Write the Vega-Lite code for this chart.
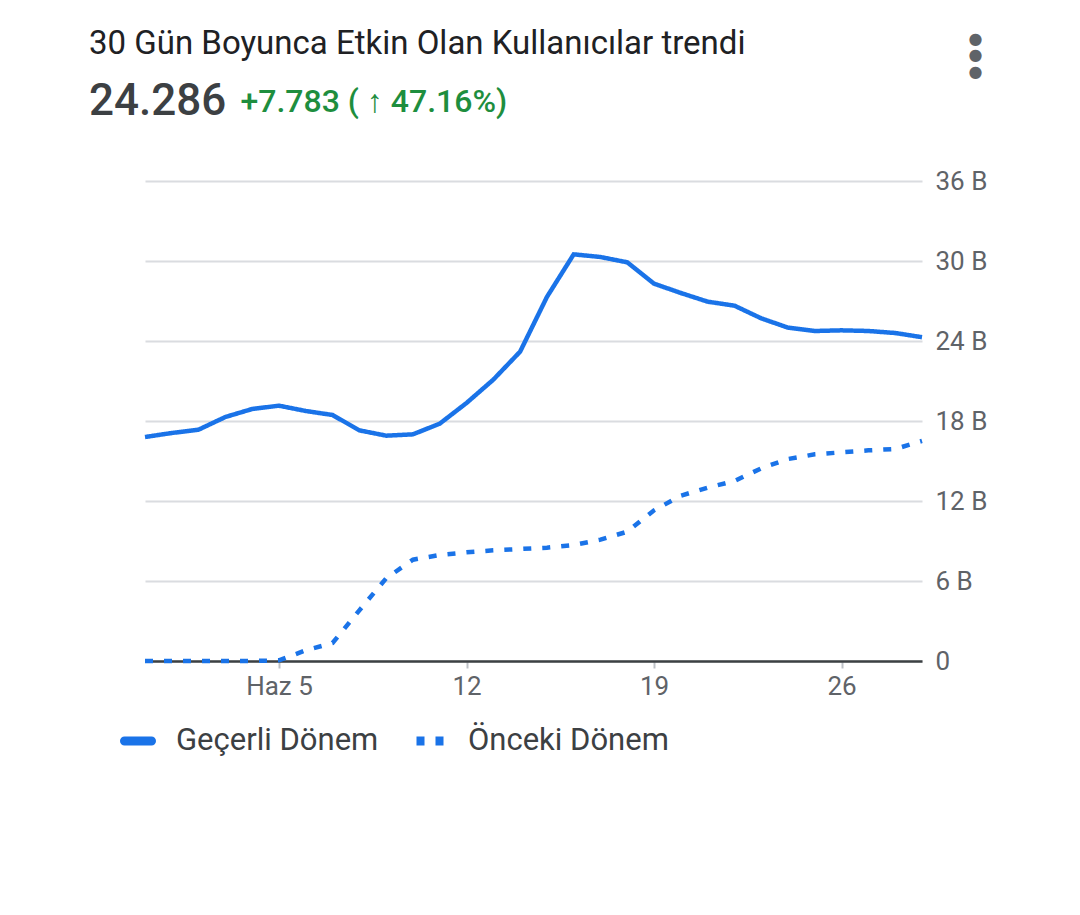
{
  "$schema": "https://vega.github.io/schema/vega-lite/v6.json",
  "autosize": {"type": "none"},
  "width": 777,
  "height": 480,
  "padding": {"left": 145, "top": 181, "right": 158, "bottom": 254},
  "background": "white",
  "config": {
    "font": "Roboto",
    "view": {"stroke": null},
    "legend": {
      "orient": "none",
      "legendX": -25,
      "legendY": 542,
      "direction": "horizontal",
      "symbolType": "stroke",
      "symbolSize": 729,
      "symbolStrokeWidth": 9,
      "labelFontSize": 31,
      "labelColor": "#3c4043",
      "labelFont": "Roboto",
      "labelOffset": 20,
      "labelLimit": 500,
      "columnPadding": 19,
      "padding": 0
    }
  },
  "title": {
    "text": "30 Gün Boyunca Etkin Olan Kullanıcılar trendi",
    "subtitle": "24.286",
    "anchor": "start",
    "frame": "group",
    "dx": -56,
    "offset": -94,
    "font": "Roboto",
    "fontSize": 33,
    "fontWeight": "normal",
    "color": "#202124",
    "subtitleFont": "Roboto",
    "subtitleFontSize": 44,
    "subtitleFontWeight": 500,
    "subtitleColor": "#3c4043",
    "subtitlePadding": 19
  },
  "data": {
    "values": [
      {"date": "2023-05-31", "period": "Geçerli Dönem", "value": 16.8},
      {"date": "2023-06-01", "period": "Geçerli Dönem", "value": 17.1},
      {"date": "2023-06-02", "period": "Geçerli Dönem", "value": 17.35},
      {"date": "2023-06-03", "period": "Geçerli Dönem", "value": 18.3},
      {"date": "2023-06-04", "period": "Geçerli Dönem", "value": 18.9},
      {"date": "2023-06-05", "period": "Geçerli Dönem", "value": 19.15},
      {"date": "2023-06-06", "period": "Geçerli Dönem", "value": 18.75},
      {"date": "2023-06-07", "period": "Geçerli Dönem", "value": 18.45},
      {"date": "2023-06-08", "period": "Geçerli Dönem", "value": 17.3},
      {"date": "2023-06-09", "period": "Geçerli Dönem", "value": 16.9},
      {"date": "2023-06-10", "period": "Geçerli Dönem", "value": 17.0},
      {"date": "2023-06-11", "period": "Geçerli Dönem", "value": 17.8},
      {"date": "2023-06-12", "period": "Geçerli Dönem", "value": 19.35},
      {"date": "2023-06-13", "period": "Geçerli Dönem", "value": 21.1},
      {"date": "2023-06-14", "period": "Geçerli Dönem", "value": 23.2},
      {"date": "2023-06-15", "period": "Geçerli Dönem", "value": 27.3},
      {"date": "2023-06-16", "period": "Geçerli Dönem", "value": 30.5},
      {"date": "2023-06-17", "period": "Geçerli Dönem", "value": 30.3},
      {"date": "2023-06-18", "period": "Geçerli Dönem", "value": 29.9},
      {"date": "2023-06-19", "period": "Geçerli Dönem", "value": 28.3},
      {"date": "2023-06-20", "period": "Geçerli Dönem", "value": 27.6},
      {"date": "2023-06-21", "period": "Geçerli Dönem", "value": 26.95},
      {"date": "2023-06-22", "period": "Geçerli Dönem", "value": 26.65},
      {"date": "2023-06-23", "period": "Geçerli Dönem", "value": 25.7},
      {"date": "2023-06-24", "period": "Geçerli Dönem", "value": 25.0},
      {"date": "2023-06-25", "period": "Geçerli Dönem", "value": 24.75},
      {"date": "2023-06-26", "period": "Geçerli Dönem", "value": 24.8},
      {"date": "2023-06-27", "period": "Geçerli Dönem", "value": 24.75},
      {"date": "2023-06-28", "period": "Geçerli Dönem", "value": 24.6},
      {"date": "2023-06-29", "period": "Geçerli Dönem", "value": 24.286},
      {"date": "2023-05-31", "period": "Önceki Dönem", "value": 0},
      {"date": "2023-06-01", "period": "Önceki Dönem", "value": 0},
      {"date": "2023-06-02", "period": "Önceki Dönem", "value": 0},
      {"date": "2023-06-03", "period": "Önceki Dönem", "value": 0},
      {"date": "2023-06-04", "period": "Önceki Dönem", "value": 0},
      {"date": "2023-06-05", "period": "Önceki Dönem", "value": 0.05},
      {"date": "2023-06-06", "period": "Önceki Dönem", "value": 0.8},
      {"date": "2023-06-07", "period": "Önceki Dönem", "value": 1.35},
      {"date": "2023-06-08", "period": "Önceki Dönem", "value": 3.8},
      {"date": "2023-06-09", "period": "Önceki Dönem", "value": 6.2},
      {"date": "2023-06-10", "period": "Önceki Dönem", "value": 7.6},
      {"date": "2023-06-11", "period": "Önceki Dönem", "value": 7.95},
      {"date": "2023-06-12", "period": "Önceki Dönem", "value": 8.15},
      {"date": "2023-06-13", "period": "Önceki Dönem", "value": 8.3},
      {"date": "2023-06-14", "period": "Önceki Dönem", "value": 8.4},
      {"date": "2023-06-15", "period": "Önceki Dönem", "value": 8.5},
      {"date": "2023-06-16", "period": "Önceki Dönem", "value": 8.7},
      {"date": "2023-06-17", "period": "Önceki Dönem", "value": 9.1},
      {"date": "2023-06-18", "period": "Önceki Dönem", "value": 9.7},
      {"date": "2023-06-19", "period": "Önceki Dönem", "value": 11.3},
      {"date": "2023-06-20", "period": "Önceki Dönem", "value": 12.4},
      {"date": "2023-06-21", "period": "Önceki Dönem", "value": 13.0},
      {"date": "2023-06-22", "period": "Önceki Dönem", "value": 13.5},
      {"date": "2023-06-23", "period": "Önceki Dönem", "value": 14.45},
      {"date": "2023-06-24", "period": "Önceki Dönem", "value": 15.15},
      {"date": "2023-06-25", "period": "Önceki Dönem", "value": 15.5},
      {"date": "2023-06-26", "period": "Önceki Dönem", "value": 15.65},
      {"date": "2023-06-27", "period": "Önceki Dönem", "value": 15.8},
      {"date": "2023-06-28", "period": "Önceki Dönem", "value": 15.9},
      {"date": "2023-06-29", "period": "Önceki Dönem", "value": 16.503}
    ]
  },
  "mark": {"type": "line", "strokeWidth": 4.5},
  "encoding": {
    "x": {
      "field": "date",
      "type": "temporal",
      "scale": {
        "type": "utc",
        "domain": [
          {"year": 2023, "month": 5, "date": 31, "utc": true},
          {"year": 2023, "month": 6, "date": 29, "utc": true}
        ]
      },
      "axis": {
        "values": [
          {"year": 2023, "month": 6, "date": 5, "utc": true},
          {"year": 2023, "month": 6, "date": 12, "utc": true},
          {"year": 2023, "month": 6, "date": 19, "utc": true},
          {"year": 2023, "month": 6, "date": 26, "utc": true}
        ],
        "labelExpr": "utcdate(datum.value) == 5 ? 'Haz 5' : utcFormat(datum.value, '%-d')",
        "grid": false,
        "domainColor": "#3c4043",
        "domainWidth": 2.5,
        "tickColor": "#bdc1c6",
        "tickWidth": 2,
        "tickSize": 7,
        "labelFont": "Roboto",
        "labelFontSize": 26,
        "labelColor": "#5f6368",
        "labelPadding": 5,
        "title": "+7.783 ( ↑ 47.16%)",
        "titleX": 95,
        "titleY": -550,
        "titleAlign": "left",
        "titleBaseline": "alphabetic",
        "titleFont": "Roboto",
        "titleFontSize": 32,
        "titleFontWeight": 500,
        "titleColor": "#1e8e3e"
      }
    },
    "y": {
      "field": "value",
      "type": "quantitative",
      "scale": {"domain": [0, 36]},
      "axis": {
        "orient": "right",
        "values": [0, 6, 12, 18, 24, 30, 36],
        "labelExpr": "datum.value == 0 ? '0' : datum.value + ' B'",
        "domain": false,
        "ticks": false,
        "gridColor": "#dadce0",
        "gridWidth": 2,
        "labelFont": "Roboto",
        "labelFontSize": 26,
        "labelColor": "#5f6368",
        "labelPadding": 13,
        "title": ["●", "●", "●"],
        "titleX": 53,
        "titleY": -151,
        "titleAngle": 0,
        "titleAlign": "center",
        "titleBaseline": "top",
        "titleFont": "DejaVu Sans",
        "titleFontSize": 16,
        "titleLineHeight": 16.7,
        "titleColor": "#5f6368"
      }
    },
    "color": {
      "field": "period",
      "type": "nominal",
      "scale": {"domain": ["Geçerli Dönem", "Önceki Dönem"], "range": ["#1a73e8", "#1a73e8"]},
      "legend": {
        "title": null,
        "encode": {"symbols": {"update": {"strokeWidth": {"value": 9}, "strokeCap": {"signal": "datum.value === 'Geçerli Dönem' ? 'round' : 'butt'"}}}}
      }
    },
    "strokeDash": {
      "field": "period",
      "type": "nominal",
      "scale": {"domain": ["Geçerli Dönem", "Önceki Dönem"], "range": [[1, 0], [8, 11]]},
      "legend": {
        "title": null,
        "encode": {"symbols": {"update": {"strokeWidth": {"value": 9}, "strokeCap": {"signal": "datum.value === 'Geçerli Dönem' ? 'round' : 'butt'"}}}}
      }
    }
  }
}
